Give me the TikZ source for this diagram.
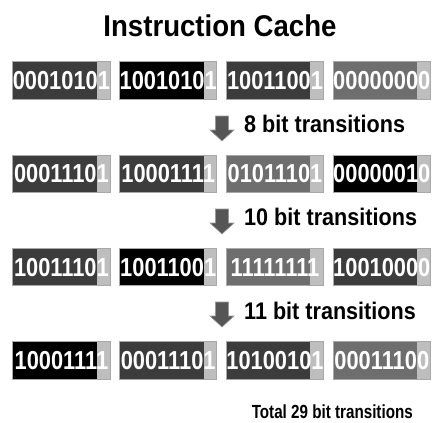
\documentclass[tikz,border=0pt]{standalone}
\usepackage{fontspec}
\setmainfont{Liberation Sans}
\usepackage{graphicx}

\definecolor{wdark}{HTML}{3C3C3C}
\definecolor{wmid}{HTML}{6E6E6E}
\definecolor{wblack}{HTML}{000000}
\definecolor{wstripe}{HTML}{BEBEBE}
\definecolor{wedge}{HTML}{A8A8A8}
\definecolor{warrow}{HTML}{555555}

% horizontally narrowed text
\newcommand{\narrow}[2]{\scalebox{#1}[1]{#2}}
\newcommand{\bits}[1]{\narrow{0.84}{#1}}

\tikzset{
  word/.style={rectangle, minimum width=97.5pt, minimum height=37.5pt,
    inner sep=0pt, draw=wedge, line width=1pt, text=white,
    font=\bfseries\fontsize{26}{26}\selectfont,
    path picture={\fill[wstripe]
      ([xshift=-13.3pt]path picture bounding box.north east)
      rectangle (path picture bounding box.south east);}},
  dk/.style={word, fill=wdark},
  bk/.style={word, fill=wblack},
  md/.style={word, fill=wmid},
  transit/.style={anchor=base west, inner sep=0pt,
    font=\bfseries\fontsize{24}{24}\selectfont},
  blockarrow/.style={fill=warrow, draw=warrow!60, line width=0.6pt},
}

% block arrow pointing down: centre x, top y, tip y
\newcommand{\downblock}[3]{%
  \path[blockarrow] (#1-6.5,#2) -- (#1+6.5,#2) -- (#1+6.5,#3-11)
    -- (#1+12,#3-11) -- (#1,#3) -- (#1-12,#3-11) -- (#1-6.5,#3-11) -- cycle;}

\begin{document}
\begin{tikzpicture}[x=1pt, y=-1pt]
\useasboundingbox (0,0) rectangle (432,423);

\node[anchor=base, inner sep=0pt,
      font=\bfseries\fontsize{30}{30}\selectfont] (title) at (220,36) {\narrow{0.92}{Instruction Cache}};

% row 1
\node[dk] (r1a) at (61.4,80.7)  {\bits{00010101}};
\node[bk] (r1b) at (168.2,80.7) {\bits{10010101}};
\node[dk] (r1c) at (275.0,80.7) {\bits{10011001}};
\node[md] (r1d) at (381.8,80.7) {\bits{00000000}};

\downblock{222}{116}{141}
\node[transit] (t1) at (244,132) {\narrow{0.9}{8 bit transitions}};

% row 2
\node[dk] (r2a) at (61.4,173.9)  {\bits{00011101}};
\node[dk] (r2b) at (168.2,173.9) {\bits{10001111}};
\node[md] (r2c) at (275.0,173.9) {\bits{01011101}};
\node[bk] (r2d) at (381.8,173.9) {\bits{00000010}};

\downblock{222}{209}{234}
\node[transit] (t2) at (244,225) {\narrow{0.9}{10 bit transitions}};

% row 3
\node[dk] (r3a) at (61.4,267.1)  {\bits{10011101}};
\node[bk] (r3b) at (168.2,267.1) {\bits{10011001}};
\node[md] (r3c) at (275.0,267.1) {\bits{11111111}};
\node[dk] (r3d) at (381.8,267.1) {\bits{10010000}};

\downblock{222}{302}{327}
\node[transit] (t3) at (244,319) {\narrow{0.9}{11 bit transitions}};

% row 4
\node[bk] (r4a) at (61.4,360.3)  {\bits{10001111}};
\node[dk] (r4b) at (168.2,360.3) {\bits{00011101}};
\node[dk] (r4c) at (275.0,360.3) {\bits{10100101}};
\node[md] (r4d) at (381.8,360.3) {\bits{00011100}};

\node[anchor=base east, inner sep=0pt,
      font=\bfseries\fontsize{19}{19}\selectfont] (total) at (413,418) {\narrow{0.8}{Total 29 bit transitions}};
\end{tikzpicture}
\end{document}
